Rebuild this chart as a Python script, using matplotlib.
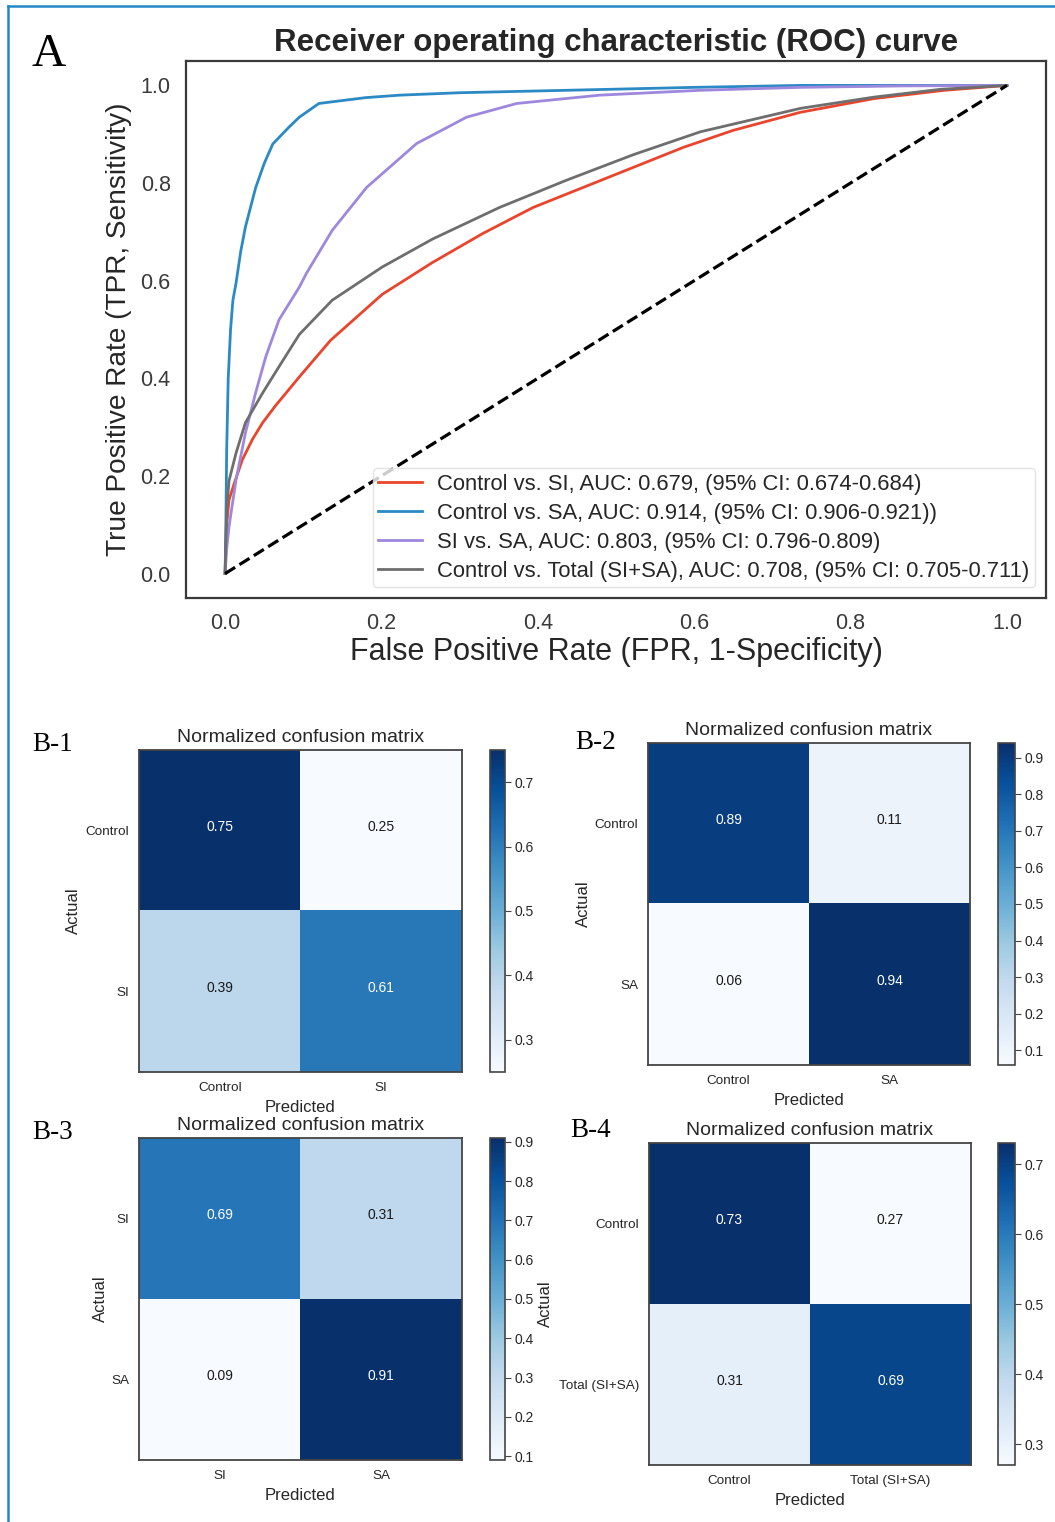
import numpy as np
import matplotlib
matplotlib.use("Agg")
import matplotlib.pyplot as plt
from matplotlib.lines import Line2D

plt.rcParams['font.family'] = ['Liberation Sans', 'DejaVu Sans']

# ---------------- ROC data ----------------
fpr_ctrl_si = [0, 0.002, 0.005, 0.012, 0.022, 0.035, 0.048, 0.065, 0.078, 0.095, 0.135, 0.201,
               0.265, 0.33, 0.394, 0.458, 0.522, 0.586, 0.65, 0.736, 0.83, 0.92, 1.0]
tpr_ctrl_si = [0, 0.10, 0.151, 0.186, 0.233, 0.275, 0.309, 0.345, 0.37, 0.403, 0.478, 0.572,
               0.637, 0.697, 0.75, 0.791, 0.832, 0.873, 0.908, 0.945, 0.973, 0.99, 1.0]

fpr_ctrl_sa = [0, 0.001, 0.002, 0.004, 0.007, 0.01, 0.014, 0.02, 0.026, 0.039, 0.05, 0.061, 0.082,
               0.095, 0.12, 0.18, 0.223, 0.3, 0.437, 0.6, 0.736, 1.0]
tpr_ctrl_sa = [0, 0.10, 0.25, 0.40, 0.50, 0.56, 0.595, 0.66, 0.71, 0.79, 0.84, 0.88, 0.915,
               0.935, 0.963, 0.975, 0.98, 0.985, 0.99, 0.996, 1.0, 1.0]

fpr_si_sa = [0, 0.002, 0.005, 0.014, 0.026, 0.039, 0.052, 0.069, 0.095, 0.104, 0.137,
             0.181, 0.245, 0.309, 0.373, 0.479, 0.608, 0.736, 0.87, 1.0]
tpr_si_sa = [0, 0.05, 0.096, 0.192, 0.288, 0.37, 0.444, 0.52, 0.587, 0.615, 0.703,
             0.791, 0.881, 0.935, 0.963, 0.98, 0.99, 0.996, 0.999, 1.0]

fpr_ctrl_total = [0, 0.002, 0.005, 0.014, 0.026, 0.048, 0.069, 0.095, 0.137, 0.201, 0.265, 0.351,
                  0.437, 0.522, 0.608, 0.736, 0.83, 0.915, 1.0]
tpr_ctrl_total = [0, 0.13, 0.19, 0.247, 0.309, 0.37, 0.424, 0.49, 0.56, 0.628, 0.685, 0.75,
                  0.806, 0.858, 0.905, 0.953, 0.976, 0.992, 1.0]

roc_labels = ["Control vs. SI, AUC: 0.679, (95% CI: 0.674-0.684)",
              "Control vs. SA, AUC: 0.914, (95% CI: 0.906-0.921))",
              "SI vs. SA, AUC: 0.803, (95% CI: 0.796-0.809)",
              "Control vs. Total (SI+SA), AUC: 0.708, (95% CI: 0.705-0.711)"]
roc_colors = ['#e8452c', '#2b8ac4', '#9e88de', '#6e6e6e']
roc_ticks = [0.0, 0.2, 0.4, 0.6, 0.8, 1.0]
roc_ticklabels = ['0.0', '0.2', '0.4', '0.6', '0.8', '1.0']

# ---------------- Confusion matrix data ----------------
cm1 = [[0.75, 0.25], [0.39, 0.61]]
cm1_labels = ['Control', 'SI']
cm2 = [[0.89, 0.11], [0.06, 0.94]]
cm2_labels = ['Control', 'SA']
cm3 = [[0.69, 0.31], [0.09, 0.91]]
cm3_labels = ['SI', 'SA']
cm4 = [[0.73, 0.27], [0.31, 0.69]]
cm4_labels = ['Control', 'Total (SI+SA)']
cb_ticks_37 = [0.3, 0.4, 0.5, 0.6, 0.7]
cb_ticks_19 = [0.1, 0.2, 0.3, 0.4, 0.5, 0.6, 0.7, 0.8, 0.9]

W, H = 1055, 1522
fig = plt.figure(figsize=(W / 100, H / 100), dpi=100)
fig.patch.set_facecolor('white')


def box(x0, y0, x1, y1):
    return [x0 / W, 1 - y1 / H, (x1 - x0) / W, (y1 - y0) / H]


# ---------------- ROC panel ----------------
ax = fig.add_axes(box(186, 61, 1046, 598))
curves = [(fpr_ctrl_si, tpr_ctrl_si), (fpr_ctrl_sa, tpr_ctrl_sa),
          (fpr_si_sa, tpr_si_sa), (fpr_ctrl_total, tpr_ctrl_total)]
for (f, t), lab, col in zip(curves, roc_labels, roc_colors):
    ax.plot(f, t, color=col, lw=2.0, label=lab, solid_joinstyle='round')
ax.plot([0, 1], [0, 1], color='black', ls='--', lw=2.3)
ax.set_xlim(-0.05, 1.05)
ax.set_ylim(-0.05, 1.05)
ax.set_xticks(roc_ticks)
ax.set_xticklabels(roc_ticklabels)
ax.set_yticks(roc_ticks)
ax.set_yticklabels(roc_ticklabels)
ax.tick_params(length=0, pad=11, labelsize=15.5, labelcolor='#3a3a3a')
for s in ax.spines.values():
    s.set_color('#3a3a3a')
    s.set_linewidth(1.6)
ax.set_title('Receiver operating characteristic (ROC) curve', fontsize=22.5,
             fontweight='bold', color='#262626', pad=7)
ax.set_xlabel('False Positive Rate (FPR, 1-Specificity)', fontsize=22, color='#262626')
ax.set_ylabel('True Positive Rate (TPR, Sensitivity)', fontsize=20.2, color='#262626')
ax.xaxis.set_label_coords(0.5, -0.073)
ax.yaxis.set_label_coords(-0.063, 0.5)
leg = ax.legend(loc='lower right', fontsize=15.8, labelspacing=0.36, handlelength=2.0,
                handletextpad=0.7, borderpad=0.25, frameon=True, fancybox=True)
leg.get_frame().set_edgecolor('#dddddd')
for txt in leg.get_texts():
    txt.set_color('#262626')

fig.text(32 / W, 1 - 66 / H, 'A', family=['Liberation Serif', 'DejaVu Serif'],
         fontsize=34, va='baseline', ha='left')


# ---------------- Confusion matrices ----------------
def draw_cm(cm, labels, axbox, cbbox, cbticks, ylab_x, xlab_y):
    cm = np.array(cm)
    a = fig.add_axes(box(*axbox))
    vmin, vmax = cm.min(), cm.max()
    im = a.imshow(cm, cmap='Blues', vmin=vmin, vmax=vmax, aspect='auto',
                  interpolation='nearest')
    thresh = (vmin + vmax) / 2.0
    for i in range(2):
        for j in range(2):
            a.text(j, i - 0.02, f"{cm[i, j]:.2f}", ha='center', va='center', fontsize=10,
                   color='white' if cm[i, j] > thresh else '#1a1a1a')
    a.set_xticks([0, 1])
    a.set_xticklabels(labels)
    a.set_yticks([0, 1])
    a.set_yticklabels(labels)
    a.tick_params(length=0, pad=7, labelsize=9.7, labelcolor='#262626')
    for s in a.spines.values():
        s.set_color('#444444')
        s.set_linewidth(1.3)
    a.set_title('Normalized confusion matrix', fontsize=14, color='#262626', pad=6)
    a.set_xlabel('Predicted', fontsize=12, color='#262626')
    a.set_ylabel('Actual', fontsize=12, color='#262626')
    a.xaxis.set_label_coords(0.5, xlab_y)
    a.yaxis.set_label_coords(ylab_x, 0.5)
    cax = fig.add_axes(box(*cbbox))
    cb = fig.colorbar(im, cax=cax)
    cb.set_ticks(cbticks)
    cb.set_ticklabels([f"{t:.1f}" for t in cbticks])
    cb.ax.tick_params(length=4, width=0.8, labelsize=10, labelcolor='#262626',
                      color='#444444', pad=3)
    cb.outline.set_edgecolor('#444444')
    cb.outline.set_linewidth(1.2)
    return a


draw_cm(cm1, cm1_labels, (139, 750, 462, 1072), (490, 750, 505, 1072), cb_ticks_37, -0.18, -0.086)
draw_cm(cm2, cm2_labels, (648, 743, 970, 1065), (998, 743, 1015, 1065), cb_ticks_19, -0.177, -0.086)
draw_cm(cm3, cm3_labels, (139, 1138, 462, 1460), (490, 1138, 505, 1460), cb_ticks_19, -0.096, -0.088)
draw_cm(cm4, cm4_labels, (649, 1143, 971, 1465), (998, 1143, 1015, 1465), cb_ticks_37, -0.298, -0.088)

serif = ['Liberation Serif', 'DejaVu Serif']
for txt, x, y in [('B-1', 32, 751), ('B-2', 575, 749), ('B-3', 32, 1139), ('B-4', 570, 1137)]:
    fig.text(x / W, 1 - y / H, txt, family=serif, fontsize=19.5, va='baseline', ha='left')

# ---------------- Blue frame (left and top) ----------------
fig.add_artist(Line2D([8 / W, 8 / W], [0, 1 - 6 / H], color='#2288c8', lw=1.8,
                      transform=fig.transFigure))
fig.add_artist(Line2D([8 / W, 1], [1 - 6 / H, 1 - 6 / H], color='#2288c8', lw=1.8,
                      transform=fig.transFigure))

fig.savefig('out.png', dpi=100, facecolor='white')
